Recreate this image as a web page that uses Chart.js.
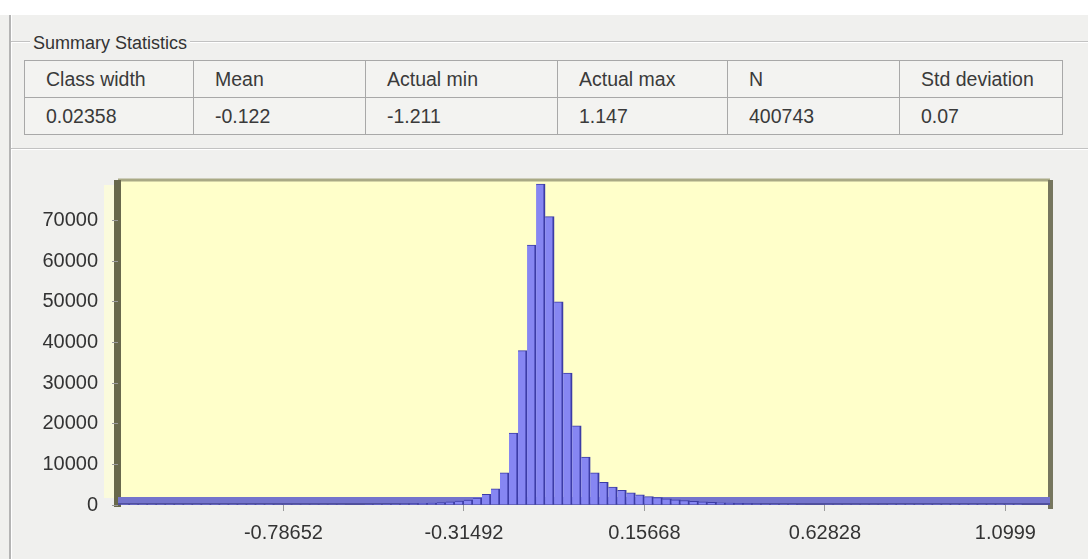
<!DOCTYPE html>
<html>
<head>
<meta charset="utf-8">
<script src="https://cdn.jsdelivr.net/npm/chart.js@4"></script>
<style>
  body { margin: 0; width: 1088px; height: 559px; background: #fff; overflow: hidden; position: relative;
         font-family: "Liberation Sans", Arial, sans-serif; }
  .panel { position: absolute; left: 0; top: 15px; width: 1088px; height: 544px; background: #f0f0ee; }
  .vline { position: absolute; left: 9px; top: 15px; width: 2px; height: 544px; background: #b4b4b4; border-right: 1px solid #fff; }
  .hline { position: absolute; left: 11px; right: 0; height: 1px; background: #c2c2c2; border-bottom: 1px solid #fff; }
  .group-title { position: absolute; left: 30px; top: 33px; font-size: 18px; color: #333; background: #f0f0ee; padding: 0 3px; }
  table.stats { position: absolute; left: 24px; top: 60px; border-collapse: collapse; font-size: 19.5px; color: #3a3a3a; background: #f3f3f1; }
  table.stats td { border: 1px solid #a8a8a8; padding: 0 0 0 21px; height: 36px; white-space: nowrap; }
  #chartBox { position: absolute; left: 0; top: 150px; width: 1088px; height: 409px; }
</style>
</head>
<body>
<div class="panel"></div>
<div class="vline"></div>
<div class="hline" style="top:41px"></div>
<div class="hline" style="top:148px"></div>
<div class="group-title">Summary Statistics</div>
<table class="stats" id="stats"></table>
<div id="chartBox"><canvas id="histChart" width="1088" height="409"></canvas></div>

<script>
// Summary table
const statHeaders = ['Class width', 'Mean', 'Actual min', 'Actual max', 'N', 'Std deviation'];
const statValues = ['0.02358', '-0.122', '-1.211', '1.147', '400743', '0.07'];
const colWidths = [169, 172, 192, 170, 172, 163];

// Histogram
const classWidth = 0.02358;
const actualMin = -1.211;
const counts = [
  5, 3, 4, 6, 5, 8, 7, 9, 12, 10,
  14, 16, 15, 20, 22, 25, 28, 32, 36, 40,
  48, 55, 62, 70, 85, 100, 120, 140, 170, 200,
  240, 290, 350, 420, 500, 620, 780, 950, 1200, 1700,
  2600, 4000, 7900, 17700, 38000, 64000, 79000, 71000, 50000, 32500,
  19500, 11800, 7900, 5600, 4400, 3600, 3000, 2500, 2100, 1800,
  1500, 1300, 1100, 900, 760, 640, 540, 460, 390, 330,
  280, 240, 200, 170, 150, 130, 110, 95, 80, 70,
  60, 52, 45, 40, 34, 30, 26, 22, 19, 16,
  14, 12, 10, 9, 8, 6, 5, 4, 3, 2
];
const xTickLabels = ['-0.78652', '-0.31492', '0.15668', '0.62828', '1.0999'];
const xRange = [-1.2187, 1.2164];
const yTicks = [0, 10000, 20000, 30000, 40000, 50000, 60000, 70000];
const yMax = 80000;

// build table
const table = document.getElementById('stats');
[statHeaders, statValues].forEach(row => {
  const tr = document.createElement('tr');
  row.forEach((txt, i) => {
    const td = document.createElement('td');
    td.textContent = txt;
    td.style.width = (colWidths[i] - 22) + 'px';
    tr.appendChild(td);
  });
  table.appendChild(tr);
});

// 3D-ish frame of the old plot control
const frame3d = {
  id: 'frame3d',
  beforeDraw(chart) {
    const { ctx, chartArea: { left, top, right, bottom } } = chart;
    ctx.save();
    ctx.fillStyle = '#fbfbdc';
    ctx.fillRect(left - 14, top + 5, 11, bottom - top - 12);
    ctx.fillStyle = '#ffffca';
    ctx.fillRect(left, top, right - left, bottom - top);
    ctx.strokeStyle = '#a9a985';
    ctx.lineWidth = 3;
    ctx.beginPath();
    ctx.moveTo(left, top);
    ctx.lineTo(right, top);
    ctx.stroke();
    ctx.fillStyle = '#68684c';
    ctx.fillRect(left - 4, top, 7, bottom - top + 2);
    ctx.fillStyle = '#76765e';
    ctx.fillRect(right - 2, top, 5, bottom - top + 4);
    ctx.restore();
  },
  beforeDatasetsDraw(chart) {
    const { ctx, chartArea: { left, right } } = chart;
    const y0 = chart.scales.y.getPixelForValue(0);
    ctx.save();
    ctx.fillStyle = '#7474cc';
    ctx.fillRect(left, y0 - 8, right - left, 8);
    ctx.fillStyle = '#50509e';
    ctx.fillRect(left, y0 - 2, right - left, 2);
    ctx.restore();
  }
};

const ctx = document.getElementById('histChart');
new Chart(ctx, {
  type: 'bar',
  data: {
    datasets: [{
      data: counts.map((c, i) => ({ x: actualMin + (i + 0.5) * classWidth, y: c })),
      backgroundColor: '#8686f2',
      borderColor: '#3c3ca6',
      borderWidth: { top: 1, right: 2, left: 0, bottom: 0 },
      barPercentage: 1,
      categoryPercentage: 1
    }]
  },
  options: {
    responsive: false,
    animation: false,
    layout: { padding: { top: 30, right: 38, left: 0, bottom: 0 } },
    plugins: { legend: { display: false }, tooltip: { enabled: false } },
    scales: {
      x: {
        type: 'linear',
        offset: false,
        min: xRange[0],
        max: xRange[1],
        afterBuildTicks: s => { s.ticks = xTickLabels.map(t => ({ value: parseFloat(t) })); },
        afterFit: s => { s.height = 54; },
        ticks: {
          autoSkip: false,
          maxRotation: 0,
          padding: 10,
          color: '#333',
          font: { family: 'Liberation Sans', size: 20 },
          callback: (v, i) => xTickLabels[i]
        },
        grid: { offset: false, drawOnChartArea: false, tickLength: 6, color: '#9a9a9a' },
        border: { display: false }
      },
      y: {
        min: 0,
        max: yMax,
        afterBuildTicks: s => { s.ticks = yTicks.map(v => ({ value: v })); },
        afterFit: s => { s.width = 118; },
        ticks: {
          padding: 14,
          color: '#333',
          font: { family: 'Liberation Sans', size: 20 },
          callback: v => String(v)
        },
        grid: { drawOnChartArea: false, tickLength: 6, color: '#9a9a9a' },
        border: { display: false }
      }
    }
  },
  plugins: [frame3d]
});
</script>
</body>
</html>
